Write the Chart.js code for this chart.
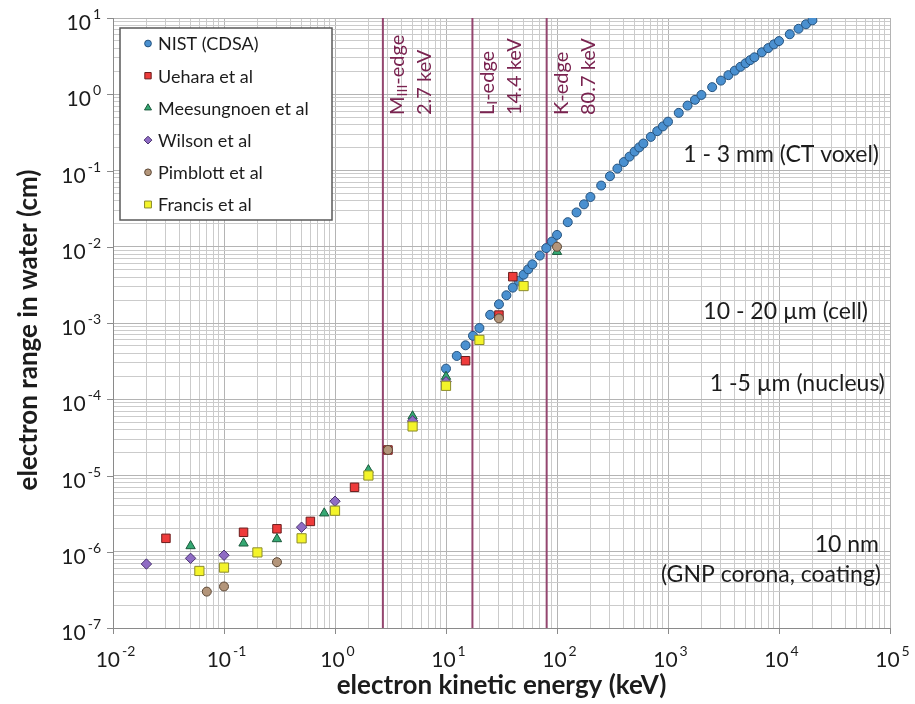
<!DOCTYPE html>
<html>
<head>
<meta charset="utf-8">
<title>Electron range in water</title>
<script src="https://cdn.jsdelivr.net/npm/chart.js@4.4.1/dist/chart.umd.min.js"></script>
<style>
	body { margin: 0; background: #ffffff; }
	canvas { display: block; }
</style>
</head>
<body>
<canvas id="rangeChart" width="915" height="704"></canvas>
<script>
// ---- data (energy in keV, range in cm) ----
let nistEnergy = [10, 12.5, 15, 17.5, 20, 25, 30, 35, 40, 45, 50, 55, 60, 70, 80, 90, 100, 125, 150, 175, 200, 250, 300, 350, 400, 450, 500, 550, 600, 700, 800, 900,
	1000, 1250, 1500, 1750, 2000, 2500, 3000, 3500, 4000, 4500, 5000, 5500, 6000, 7000, 8000, 9000, 10000, 12500, 15000, 17500, 20000];
let nistRange = [2.52e-4, 3.7e-4, 5.1e-4, 6.8e-4, 8.6e-4, 1.28e-3, 1.76e-3, 2.31e-3, 2.91e-3, 3.57e-3, 4.3e-3, 5.06e-3, 5.88e-3, 7.66e-3, 9.6e-3, 1.17e-2, 1.43e-2, 2.1e-2, 2.82e-2, 3.6e-2, 4.49e-2, 6.35e-2, 8.42e-2, 0.106, 0.129, 0.152, 0.177, 0.201, 0.226, 0.276, 0.328, 0.379,
	0.437, 0.57, 0.71, 0.845, 0.979, 1.24, 1.51, 1.78, 2.04, 2.29, 2.55, 2.8, 3.05, 3.55, 4.03, 4.51, 4.98, 6.12, 7.22, 8.28, 9.32];

let ueharaEnergy = [0.03, 0.15, 0.3, 0.6, 1.5, 3, 15, 30, 40];
let ueharaRange = [1.5e-6, 1.8e-6, 2.0e-6, 2.5e-6, 7.0e-6, 2.16e-5, 3.2e-4, 1.27e-3, 4.05e-3];

let meesungnoenEnergy = [0.05, 0.15, 0.3, 0.8, 2, 5, 10, 100];
let meesungnoenRange = [1.19e-6, 1.29e-6, 1.47e-6, 3.2e-6, 1.18e-5, 6.0e-5, 1.98e-4, 8.6e-3];

let wilsonEnergy = [0.02, 0.05, 0.1, 0.5, 1, 5, 10];
let wilsonRange = [6.9e-7, 8.2e-7, 9.0e-7, 2.1e-6, 4.6e-6, 5.2e-5, 1.7e-4];

let pimblottEnergy = [0.07, 0.1, 0.3, 3, 30, 100];
let pimblottRange = [3.0e-7, 3.5e-7, 7.3e-7, 2.16e-5, 1.15e-3, 1.0e-2];

let francisEnergy = [0.06, 0.1, 0.2, 0.5, 1, 2, 5, 10, 20, 50];
let francisRange = [5.6e-7, 6.2e-7, 9.8e-7, 1.5e-6, 3.45e-6, 1.0e-5, 4.4e-5, 1.5e-4, 6.0e-4, 3.05e-3];

// gold absorption edges (line position in keV, label texts)
let edgeEnergy = [2.7, 17.3, 80.7];
let edgeNames = [['M', 'III', '-edge'], ['L', 'I', '-edge'], ['K', '', '-edge']];
let edgeValues = ['2.7 keV', '14.4 keV', '80.7 keV'];

// axis decades (tick labels are 10^n)
let xExponents = [-2, -1, 0, 1, 2, 3, 4, 5];
let yExponents = [-7, -6, -5, -4, -3, -2, -1, 0, 1];

// size notes on the right
let noteTexts = ['1 - 3 mm (CT voxel)', '10 - 20 \u00b5m (cell)', '1 -5 \u00b5m (nucleus)', '10 nm', '(GNP corona, coating)'];

const FONT = 'Lato, "Open Sans", sans-serif';
const TEXT_COLOR = '#1c1c1c';
const EDGE_COLOR = '#94466f';
const EDGE_TEXT = '#7a2350';

function toPoints(xs, ys) {
	return xs.map((x, i) => ({ x: x, y: ys[i] }));
}

// all log grid lines k*10^n between two decades
function logTicks(fromExp, toExp) {
	let ticks = [];
	for (let e = fromExp; e < toExp; e++) {
		for (let k = 1; k <= 9; k++) {
			ticks.push({ value: parseFloat((k * Math.pow(10, e)).toPrecision(2)) });
		}
	}
	ticks.push({ value: Math.pow(10, toExp) });
	return ticks;
}

function isDecade(v) {
	let l = Math.log10(v);
	return Math.abs(l - Math.round(l)) < 1e-9;
}

function gridColor(c) {
	return isDecade(c.tick.value) ? '#b4b4b4' : '#cbcbcb';
}

// draws "10" with the exponent as superscript
function drawPower(ctx, exp, x, y, align) {
	ctx.font = '21px ' + FONT;
	let base = '10';
	let wBase = ctx.measureText(base).width;
	ctx.font = '14px ' + FONT;
	let sup = String(exp);
	let wSup = ctx.measureText(sup).width;
	let total = wBase + 2 + wSup;
	let left = align == 'right' ? x - total : x - total / 2;
	ctx.textAlign = 'left';
	ctx.textBaseline = 'alphabetic';
	ctx.font = '21px ' + FONT;
	ctx.fillText(base, left, y);
	ctx.font = '14px ' + FONT;
	ctx.fillText(sup, left + wBase + 2, y - 11);
}

// rotated text made of [normal, subscript, normal] pieces
function drawRotated(ctx, parts, x, y) {
	ctx.save();
	ctx.translate(x, y);
	ctx.rotate(-Math.PI / 2);
	ctx.textAlign = 'left';
	ctx.textBaseline = 'middle';
	let cx = 0;
	parts.forEach((p, i) => {
		let sub = parts.length == 3 && i == 1;
		ctx.font = (sub ? '14px ' : '20px ') + FONT;
		ctx.fillText(p, cx, sub ? 5 : 0);
		cx += ctx.measureText(p).width;
	});
	ctx.restore();
}

const decorPlugin = {
	id: 'decor',
	beforeDatasetsDraw(chart) {
		let { ctx, chartArea, scales } = chart;
		ctx.save();
		ctx.strokeStyle = EDGE_COLOR;
		ctx.lineWidth = 2;
		edgeEnergy.forEach((e) => {
			let px = scales.x.getPixelForValue(e);
			ctx.beginPath();
			ctx.moveTo(px, chartArea.top);
			ctx.lineTo(px, chartArea.bottom);
			ctx.stroke();
		});
		ctx.restore();
	},
	afterDraw(chart) {
		let { ctx, chartArea, scales } = chart;
		ctx.save();
		ctx.fillStyle = TEXT_COLOR;
		ctx.strokeStyle = '#8a8a8a';
		ctx.lineWidth = 1;

		// x tick marks + labels
		xExponents.forEach((e) => {
			let px = Math.round(scales.x.getPixelForValue(Math.pow(10, e))) + 0.5;
			ctx.beginPath();
			ctx.moveTo(px, chartArea.bottom);
			ctx.lineTo(px, chartArea.bottom + 6);
			ctx.stroke();
			drawPower(ctx, e, px + 2, chartArea.bottom + 39, 'center');
		});
		// y tick marks + labels
		yExponents.forEach((e) => {
			let py = Math.round(scales.y.getPixelForValue(Math.pow(10, e))) + 0.5;
			ctx.beginPath();
			ctx.moveTo(chartArea.left - 6, py);
			ctx.lineTo(chartArea.left, py);
			ctx.stroke();
			drawPower(ctx, e, chartArea.left - 12, py + 11, 'right');
		});

		// axis titles
		ctx.font = 'bold 26px ' + FONT;
		ctx.textAlign = 'center';
		ctx.textBaseline = 'middle';
		ctx.fillText('electron kinetic energy (keV)', (chartArea.left + chartArea.right) / 2, 686);
		ctx.save();
		ctx.translate(29, 330);
		ctx.rotate(-Math.PI / 2);
		ctx.fillText('electron range in water (cm)', 0, 0);
		ctx.restore();

		// edge labels
		ctx.fillStyle = EDGE_TEXT;
		edgeEnergy.forEach((e, i) => {
			let px = scales.x.getPixelForValue(e);
			drawRotated(ctx, edgeNames[i], px + 15, 115);
			drawRotated(ctx, [edgeValues[i]], px + 42, 115);
		});

		// size notes
		let noteY = [155, 312, 384, 545, 575];
		let noteRight = [879, 868, 885, 879, 881];
		ctx.fillStyle = TEXT_COLOR;
		ctx.font = '23px ' + FONT;
		ctx.textAlign = 'right';
		ctx.textBaseline = 'middle';
		noteTexts.forEach((t, i) => {
			ctx.fillText(t, noteRight[i], noteY[i]);
		});

		// legend box
		let box = { x: 120, y: 28, w: 212, h: 192 };
		ctx.fillStyle = '#ffffff';
		ctx.fillRect(box.x, box.y, box.w, box.h);
		ctx.strokeStyle = '#5a5a5a';
		ctx.lineWidth = 1.5;
		ctx.strokeRect(box.x, box.y, box.w, box.h);
		chart.data.datasets.forEach((ds, i) => {
			let y = 43.5 + i * 32.2;
			ctx.fillStyle = ds.backgroundColor;
			ctx.strokeStyle = ds.borderColor;
			ctx.lineWidth = 1;
			Chart.helpers.drawPoint(ctx, { pointStyle: ds.pointStyle, radius: ds.pointRadius * 0.75, borderWidth: 1, rotation: 0 }, 148, y);
			ctx.fillStyle = TEXT_COLOR;
			ctx.font = '18px ' + FONT;
			ctx.textAlign = 'left';
			ctx.textBaseline = 'middle';
			ctx.fillText(ds.label, 158, y + 1);
		});
		ctx.restore();
	}
};

function makeSet(label, xs, ys, style, radius, fill, border, order) {
	return {
		label: label,
		data: toPoints(xs, ys),
		pointStyle: style,
		pointRadius: radius,
		backgroundColor: fill,
		borderColor: border,
		borderWidth: 1,
		showLine: false,
		order: order
	};
}

let datasets = [
	makeSet('NIST (CDSA)', nistEnergy, nistRange, 'circle', 4.5, '#4a90d0', '#24527e', 6),
	makeSet('Uehara et al', ueharaEnergy, ueharaRange, 'rect', 6, '#ee3b3b', '#6b1c1c', 5),
	makeSet('Meesungnoen et al', meesungnoenEnergy, meesungnoenRange, 'triangle', 5.4, '#35a873', '#1b5a3c', 4),
	makeSet('Wilson et al', wilsonEnergy, wilsonRange, 'rectRot', 5.2, '#8f6cc4', '#4a3370', 3),
	makeSet('Pimblott et al', pimblottEnergy, pimblottRange, 'circle', 4.5, '#b3957a', '#5c4836', 2),
	makeSet('Francis et al', francisEnergy, francisRange, 'rect', 6.5, '#f4f42a', '#8c8c2a', 1)
];

const ctx = document.getElementById('rangeChart').getContext('2d');
const rangeChart = new Chart(ctx, {
	type: 'scatter',
	data: { datasets: datasets },
	options: {
		responsive: false,
		animation: false,
		devicePixelRatio: 1,
		layout: { padding: { left: 113, right: 25, top: 18, bottom: 76 } },
		plugins: {
			legend: { display: false },
			tooltip: { enabled: false }
		},
		scales: {
			x: {
				type: 'logarithmic',
				min: 0.01,
				max: 100000,
				afterBuildTicks: (axis) => { axis.ticks = logTicks(xExponents[0], xExponents[xExponents.length - 1]); },
				ticks: { display: false },
				grid: { color: gridColor, drawTicks: false, lineWidth: 1 },
				border: { color: '#8a8a8a', width: 1 }
			},
			y: {
				type: 'logarithmic',
				min: 1e-7,
				max: 10,
				afterBuildTicks: (axis) => { axis.ticks = logTicks(yExponents[0], yExponents[yExponents.length - 1]); },
				ticks: { display: false },
				grid: { color: gridColor, drawTicks: false, lineWidth: 1 },
				border: { color: '#8a8a8a', width: 1 }
			}
		}
	},
	plugins: [decorPlugin]
});
</script>
</body>
</html>
